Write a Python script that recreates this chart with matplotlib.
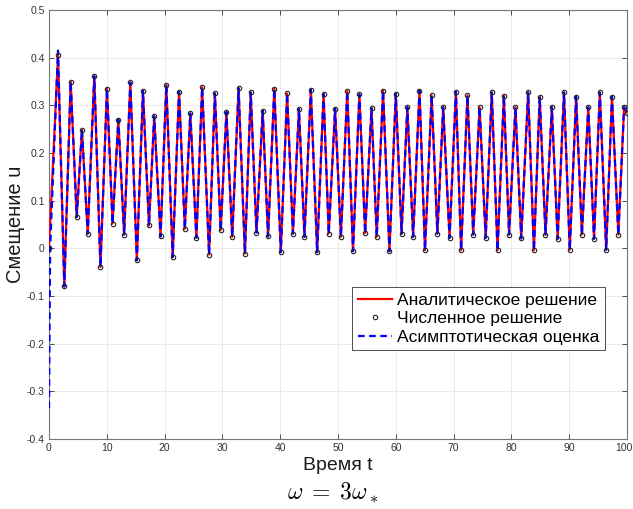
import matplotlib
matplotlib.use("Agg")
import matplotlib.pyplot as plt
from matplotlib.lines import Line2D
from matplotlib.transforms import ScaledTranslation

# ---- data (extrema of the oscillation) ----
peak_t = [1.56, 3.75, 5.70, 7.84, 10.03, 12.0, 14.07, 16.26, 18.2, 20.3, 22.5, 24.45,
          26.5, 28.7, 30.7, 32.8, 34.9, 36.97, 38.98, 41.2, 43.25, 45.3, 47.5, 49.5,
          51.6, 53.7, 55.8, 57.8, 60.0, 62.0, 64.1, 66.2, 68.2, 70.4, 72.4, 74.5,
          76.6, 78.7, 80.7, 82.9, 84.9, 87.0, 89.1, 91.2, 93.3, 95.3, 97.4, 99.5]
peak_u = [0.405, 0.350, 0.249, 0.361, 0.335, 0.270, 0.348, 0.330, 0.277, 0.343, 0.329, 0.283,
          0.338, 0.325, 0.286, 0.336, 0.327, 0.289, 0.335, 0.325, 0.292, 0.333, 0.324, 0.293,
          0.330, 0.323, 0.294, 0.331, 0.324, 0.296, 0.331, 0.321, 0.296, 0.329, 0.321, 0.296,
          0.327, 0.320, 0.296, 0.327, 0.318, 0.296, 0.327, 0.318, 0.296, 0.327, 0.318, 0.296]
trough_t = [2.65, 4.8, 6.7, 8.9, 11.0, 13.0, 15.2, 17.3, 19.3, 21.4, 23.5, 25.5,
            27.7, 29.7, 31.7, 33.9, 35.9, 37.9, 40.1, 42.2, 44.2, 46.4, 48.4, 50.5,
            52.6, 54.7, 56.7, 58.9, 61.0, 63.0, 65.05, 67.2, 69.3, 71.3, 73.4, 75.55,
            77.6, 79.6, 81.7, 83.9, 85.9, 88.0, 90.1, 92.2, 94.3, 96.4, 98.5]
trough_u = [-0.080, 0.066, 0.031, -0.039, 0.052, 0.029, -0.025, 0.048, 0.025, -0.018, 0.041, 0.022,
            -0.013, 0.038, 0.024, -0.011, 0.033, 0.025, -0.008, 0.031, 0.024, -0.008, 0.031, 0.024,
            -0.006, 0.032, 0.024, -0.006, 0.031, 0.024, -0.004, 0.031, 0.022, -0.004, 0.029, 0.022,
            -0.004, 0.029, 0.021, -0.004, 0.029, 0.020, -0.003, 0.029, 0.020, -0.003, 0.029]
start_t, start_u = 0.0, 0.0
end_t, end_u = 100.0, 0.285
asym_start_t = [0.0, 0.2]
asym_start_u = [-0.335, 0.0]
asym_first_peak_u = 0.415

legend_labels = ["Аналитическое решение", "Численное решение", "Асимптотическая оценка"]
x_ticks = [0, 10, 20, 30, 40, 50, 60, 70, 80, 90, 100]
y_ticks = [-0.4, -0.3, -0.2, -0.1, 0, 0.1, 0.2, 0.3, 0.4, 0.5]
y_tick_labels = ["-0.4", "-0.3", "-0.2", "-0.1", "0", "0.1", "0.2", "0.3", "0.4", "0.5"]

# ---- build sequences from extrema ----
t_seq = [start_t]
u_seq = [start_u]
for i in range(len(peak_t)):
    t_seq.append(peak_t[i]); u_seq.append(peak_u[i])
    if i < len(trough_t):
        t_seq.append(trough_t[i]); u_seq.append(trough_u[i])
t_seq.append(end_t); u_seq.append(end_u)

asym_t = asym_start_t + t_seq[1:]
asym_u = asym_start_u + [asym_first_peak_u] + u_seq[2:]

plt.rcParams['font.family'] = ['Liberation Sans', 'DejaVu Sans']
plt.rcParams['mathtext.fontset'] = 'cm'

fig = plt.figure(figsize=(6.33, 5.09), dpi=100)
ax = fig.add_axes([0.0774, 0.1375, 0.9131, 0.8428])

ax.plot(t_seq, u_seq, color=(1, 0, 0), lw=1.6, zorder=3)
ax.plot(asym_t, asym_u, color=(0, 0, 1), lw=1.6, ls=(0, (3.0, 2.0)), zorder=4)
ax.plot(t_seq, u_seq, ls='none', marker='o', ms=3.2, mfc='none', mec='#222222', mew=0.8, zorder=5)

ax.set_xlim(0, 100)
ax.set_ylim(-0.4, 0.5)
ax.set_xticks(x_ticks)
ax.set_xticklabels([str(v) for v in x_ticks])
ax.set_yticks(y_ticks)
ax.set_yticklabels(y_tick_labels)
ax.tick_params(direction='in', length=3.5, width=0.6, top=True, right=True,
               labelsize=7.5, colors='#333333', pad=3)
ax.grid(True, color='#e6e6e6', lw=0.6)
ax.set_axisbelow(True)
for s in ax.spines.values():
    s.set_color('#777777')
    s.set_linewidth(0.8)

# keep the last x tick label inside the figure
last = ax.get_xticklabels()[-1]
last.set_transform(last.get_transform() + ScaledTranslation(-3 / 100, 0, fig.dpi_scale_trans))

ax.set_xlabel("Время t", fontsize=14, color='#1a1a1a', labelpad=3)
ax.set_ylabel("Смещение u", fontsize=14.5, color='#1a1a1a', labelpad=1)

handles = [Line2D([], [], color=(1, 0, 0), lw=1.6),
           Line2D([], [], ls='none', marker='o', ms=3.2, mfc='none', mec='#222222', mew=0.8),
           Line2D([], [], color=(0, 0, 1), lw=1.6, ls=(0, (3.0, 2.0)))]
leg = ax.legend(handles, legend_labels, loc='lower right', bbox_to_anchor=(0.962, 0.207),
                borderaxespad=0, fontsize=12.5, frameon=True, fancybox=False, framealpha=1,
                edgecolor='#333333', handlelength=2.0, handletextpad=0.3,
                labelspacing=0.2, borderpad=0.3)
leg.get_frame().set_linewidth(0.6)

fig.text(0.525, 0.032, r"$\omega\;=\;3\omega_*$", fontsize=17, ha='center', va='center')

fig.savefig("out.png", dpi=100)
